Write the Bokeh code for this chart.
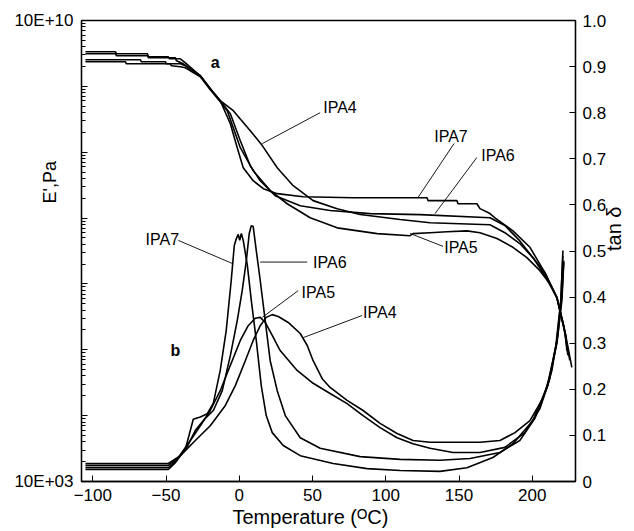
import math
from bokeh.plotting import figure
from bokeh.models import (Range1d, LinearScale, LinearAxis, FixedTicker, Label,
                          Arrow, CustomJSTickFormatter, Title)
from bokeh.embed import file_html
from bokeh.resources import INLINE

# ---------------- data ----------------
# Storage modulus E' (Pa) curves "a"
T_E_IPA7 = [-105.0, -84.5, -83.8, -62.7, -62.0, -48.4, -47.7, -40.2, -36.8, -26.6, -19.8, -13.0, -6.1, -1.4,
            2.7, 9.5, 16.4, 25.9, 43.6, 77.7, 128.2, 128.8, 148.6, 149.3, 162.2, 164.3, 171.1, 174.5, 186.8,
            198.4, 208.6, 216.8, 222.2, 227.0]
E_IPA7 = [3.35e9, 3.35e9, 3.13e9, 3.13e9, 2.81e9, 2.81e9, 2.62e9, 2.62e9, 2.28e9, 1.45e9, 9.2e8, 6.05e8, 2.71e8,
          1.17e8, 5.82e7, 3.69e7, 2.79e7, 2.35e7, 2.11e7, 2.04e7, 2.04e7, 1.84e7, 1.84e7, 1.65e7, 1.65e7, 1.39e7,
          1.17e7, 1.01e7, 6.4e6, 3.6e6, 1.48e6, 6.2e5, 1.95e5, 5.4e4]

T_E_IPA6 = [-105.0, -84.5, -83.8, -62.7, -62.0, -43.6, -42.9, -38.2, -26.6, -19.8, -13.0, -6.1, 0.7, 7.5, 14.3,
            24.5, 41.6, 62.0, 89.3, 123.4, 171.1, 181.3, 191.5, 200.4, 208.6, 216.8, 222.2, 225.6]
E_IPA6 = [3.13e9, 3.13e9, 2.91e9, 2.91e9, 2.72e9, 2.72e9, 2.45e9, 2.20e9, 1.45e9, 9.2e8, 6.05e8, 3.84e8, 1.49e8,
          6.24e7, 3.69e7, 2.19e7, 1.54e7, 1.30e7, 1.17e7, 1.13e7, 1.01e7, 7.7e6, 4.5e6, 2.51e6, 1.34e6, 6.2e5,
          1.82e5, 6.9e4]

T_E_IPA4 = [-105.0, -67.5, -66.8, -50.4, -49.8, -40.2, -36.8, -26.6, -19.8, -13.0, -4.1, 7.5, 15.7, 25.9, 36.8,
            50.4, 66.8, 82.5, 109.8, 130.2, 171.1, 181.3, 191.5, 200.4, 208.6, 216.8, 222.9, 223.6]
E_IPA4 = [2.53e9, 2.53e9, 2.36e9, 2.36e9, 2.20e9, 2.20e9, 2.06e9, 1.45e9, 9.2e8, 6.05e8, 4.27e8, 2.12e8, 1.26e8,
          5.82e7, 3.10e7, 1.84e7, 1.39e7, 1.13e7, 9.5e6, 8.5e6, 7.9e6, 6.0e6, 4.1e6, 2.51e6, 1.48e6, 6.2e5,
          1.64e5, 9.7e4]

T_E_IPA5 = [-105.0, -77.7, -77.0, -47.0, -46.4, -40.2, -36.8, -26.6, -19.8, -13.0, -8.2, 0.7, 9.5, 21.1, 32.7,
            48.4, 66.8, 94.1, 116.6, 118.6, 130.2, 141.8, 155.4, 164.3, 175.9, 186.8, 196.3, 205.2, 212.0, 216.8,
            221.5, 224.3]
E_IPA5 = [2.36e9, 2.36e9, 2.20e9, 2.20e9, 2.06e9, 1.98e9, 1.92e9, 1.40e9, 8.9e8, 5.84e8, 4.27e8, 1.17e8, 5.24e7,
          2.61e7, 1.65e7, 1.01e7, 7.1e6, 5.8e6, 5.4e6, 5.8e6, 6.0e6, 6.2e6, 6.4e6, 6.0e6, 4.9e6, 3.6e6, 2.51e6,
          1.59e6, 1.01e6, 6.2e5, 2.33e5, 8.2e4]

# Loss factor tan delta curves "b"
T_D_IPA7 = [-105.0, -48.4, -43.6, -36.8, -31.4, -26.6, -21.8, -17.7, -13.0, -8.9, -5.5, -3.4, -2.0, -0.7, 0.3,
            1.4, 2.7, 5.5, 8.2, 11.6, 15.0, 18.4, 22.5, 30.0, 41.6, 64.1, 87.3, 109.8, 137.0, 155.4, 173.1, 186.8,
            200.4, 209.9, 216.8, 220.2, 221.5]
D_IPA7 = [0.026, 0.026, 0.041, 0.070, 0.135, 0.140, 0.147, 0.170, 0.241, 0.328, 0.436, 0.512, 0.527, 0.536,
          0.523, 0.538, 0.523, 0.469, 0.393, 0.306, 0.208, 0.143, 0.106, 0.078, 0.056, 0.039, 0.028, 0.024,
          0.022, 0.030, 0.052, 0.082, 0.132, 0.204, 0.299, 0.393, 0.475]

T_D_IPA6 = [-105.0, -48.4, -42.9, -36.1, -30.0, -23.2, -17.7, -11.6, -6.1, -1.4, 2.0, 4.8, 6.8, 8.2, 9.5, 11.6,
            14.3, 17.7, 21.1, 25.9, 31.4, 41.6, 55.2, 82.5, 109.8, 137.0, 157.5, 177.9, 191.5, 201.8, 210.6,
            216.1, 219.5, 220.9]
D_IPA6 = [0.030, 0.030, 0.046, 0.072, 0.111, 0.137, 0.154, 0.197, 0.273, 0.349, 0.414, 0.479, 0.538, 0.555,
          0.553, 0.501, 0.436, 0.349, 0.262, 0.197, 0.143, 0.095, 0.072, 0.054, 0.048, 0.046, 0.050, 0.063,
          0.089, 0.137, 0.208, 0.295, 0.393, 0.501]

T_D_IPA5 = [-105.0, -48.4, -41.6, -33.4, -26.6, -19.8, -13.0, -6.1, 0.7, 6.1, 10.9, 14.3, 17.7, 22.5, 27.9, 39.5,
            50.4, 62.0, 73.6, 84.5, 96.1, 107.7, 118.6, 130.2, 145.9, 164.3, 181.3, 195.0, 205.2, 212.0, 216.8,
            219.5, 220.9]
D_IPA5 = [0.035, 0.035, 0.052, 0.089, 0.121, 0.154, 0.197, 0.252, 0.306, 0.338, 0.354, 0.356, 0.345, 0.317,
          0.284, 0.241, 0.213, 0.191, 0.169, 0.143, 0.117, 0.095, 0.082, 0.072, 0.063, 0.063, 0.074, 0.106,
          0.158, 0.223, 0.306, 0.393, 0.490]

T_D_IPA4 = [-105.0, -48.4, -40.2, -30.0, -19.8, -9.5, -2.7, 4.1, 9.5, 14.3, 18.4, 22.5, 26.6, 33.4, 41.6, 46.4,
            50.4, 56.6, 62.0, 73.6, 84.5, 96.1, 107.7, 118.6, 130.2, 145.9, 164.3, 177.9, 188.2, 198.4, 207.2,
            213.4, 217.4, 220.2, 221.5]
D_IPA4 = [0.039, 0.039, 0.056, 0.089, 0.121, 0.165, 0.208, 0.262, 0.306, 0.338, 0.356, 0.362, 0.358, 0.345,
          0.321, 0.295, 0.262, 0.223, 0.204, 0.176, 0.154, 0.126, 0.104, 0.089, 0.085, 0.085, 0.085, 0.089,
          0.106, 0.132, 0.180, 0.241, 0.317, 0.403, 0.479]

# Axes ticks and labels
X_TICKS = [-100, -50, 0, 50, 100, 150, 200]
E_TICKS = [1e3, 1e4, 1e5, 1e6, 1e7, 1e8, 1e9, 1e10]
E_TICK_LABELS = ["10E+03", "", "", "", "", "", "", "10E+10"]
D_TICKS = [0.0, 0.1, 0.2, 0.3, 0.4, 0.5, 0.6, 0.7, 0.8, 0.9, 1.0]
D_TICK_LABELS = ["0", "0.1", "0.2", "0.3", "0.4", "0.5", "0.6", "0.7", "0.8", "0.9", "1.0"]

X_TITLE = "Temperature (ᴼC)"
E_TITLE = "E',Pa"
D_TITLE = "tan δ"

FONT = "Liberation Sans"

# ---------------- figure ----------------
p = figure(frame_width=494, frame_height=461,
           x_range=Range1d(-107.7, 229.5), y_range=Range1d(1e3, 1e10),
           y_axis_type="log", output_backend="svg", toolbar_location=None,
           min_border_left=81, min_border_right=59, min_border_top=20, min_border_bottom=50)
p.extra_y_ranges = {"tan": Range1d(0, 1)}
p.extra_y_scales = {"tan": LinearScale()}
p.grid.visible = False
p.outline_line_color = "black"
p.outline_line_width = 1.3
p.background_fill_color = "white"
p.border_fill_color = "white"

# x axis
xa = p.xaxis[0]
xa.ticker = FixedTicker(ticks=X_TICKS, minor_ticks=[])
# left log axis
ya = p.yaxis[0]
minor = []
for d in E_TICKS[:-1]:
    for k in range(2, 10):
        minor.append(k * d)
ya.ticker = FixedTicker(ticks=E_TICKS, minor_ticks=minor)
ya.formatter = CustomJSTickFormatter(args=dict(vals=E_TICKS, labs=E_TICK_LABELS),
                                     code="const i = vals.indexOf(tick); return i >= 0 ? labs[i] : '';")
# right axis
ra = LinearAxis(y_range_name="tan")
ra.ticker = FixedTicker(ticks=D_TICKS, minor_ticks=[])
ra.formatter = CustomJSTickFormatter(args=dict(vals=D_TICKS, labs=D_TICK_LABELS),
                                     code="const i = vals.indexOf(tick); return i >= 0 ? labs[i] : '';")
ra.axis_label = D_TITLE
ra.axis_label_orientation = math.pi / 2
ra.axis_label_standoff = 5
ra.axis_label_text_font = FONT
ra.axis_label_text_font_size = "20px"
ra.axis_label_text_font_style = "normal"
ra.axis_label_text_color = "black"
p.add_layout(ra, "right")

for ax in (xa, ya, ra):
    ax.axis_line_color = "black"
    ax.axis_line_width = 1.3
    ax.major_tick_in = 6
    ax.major_tick_out = 0
    ax.minor_tick_in = 4
    ax.minor_tick_out = 0
    ax.major_tick_line_color = "black"
    ax.minor_tick_line_color = "black"
    ax.major_label_text_font = FONT
    ax.major_label_text_font_size = "17px"
    ax.major_label_text_color = "black"
xa.major_label_standoff = 7
ya.major_label_standoff = 8
ra.major_label_standoff = 7

# axis titles as side-panel titles
p.add_layout(Title(text=X_TITLE, align="left", offset=151, standoff=0, text_font=FONT,
                   text_font_size="20px", text_font_style="normal", text_color="black"), "below")
p.add_layout(Title(text=E_TITLE, align="left", offset=278, standoff=-96, text_font=FONT,
                   text_font_size="18px", text_font_style="normal", text_color="black"), "left")

# ---------------- curves ----------------
LW = 1.6
for t, e in ((T_E_IPA7, E_IPA7), (T_E_IPA6, E_IPA6), (T_E_IPA4, E_IPA4), (T_E_IPA5, E_IPA5)):
    p.line(t, e, line_color="black", line_width=LW)
for t, d in ((T_D_IPA7, D_IPA7), (T_D_IPA6, D_IPA6), (T_D_IPA5, D_IPA5), (T_D_IPA4, D_IPA4)):
    p.line(t, d, line_color="black", line_width=LW, y_range_name="tan")

# ---------------- annotations (positions in T / tan-delta coordinates) ----------------
def lab(x, y, text, align="center", size="16px", style="normal"):
    p.add_layout(Label(x=x, y=y, y_range_name="tan", text=text, text_font=FONT, text_font_size=size,
                       text_font_style=style, text_align=align, text_baseline="middle",
                       text_color="black"))

def leader(x0, y0, x1, y1):
    p.add_layout(Arrow(end=None, x_start=x0, y_start=y0, x_end=x1, y_end=y1, y_range_name="tan",
                       line_color="black", line_width=0.9))

lab(-16.4, 0.909, "a", style="bold")
lab(-43.6, 0.284, "b", style="bold")

lab(57.3, 0.811, "IPA4", align="left")
leader(15.7, 0.733, 55.2, 0.800)
lab(144.5, 0.748, "IPA7")
leader(122.0, 0.616, 146.6, 0.733)
lab(176.6, 0.707, "IPA6")
leader(133.6, 0.581, 162.2, 0.703)
lab(151.3, 0.508, "IPA5")
leader(116.6, 0.538, 139.1, 0.510)

lab(-52.5, 0.525, "IPA7")
leader(-41.6, 0.523, -4.8, 0.473)
lab(50.4, 0.476, "IPA6", align="left")
leader(14.3, 0.476, 46.4, 0.476)
lab(42.5, 0.410, "IPA5", align="left")
leader(15.7, 0.356, 40.2, 0.414)
lab(84.5, 0.367, "IPA4", align="left")
leader(43.6, 0.312, 83.8, 0.360)

open("out.html", "w").write(file_html(p, INLINE))
